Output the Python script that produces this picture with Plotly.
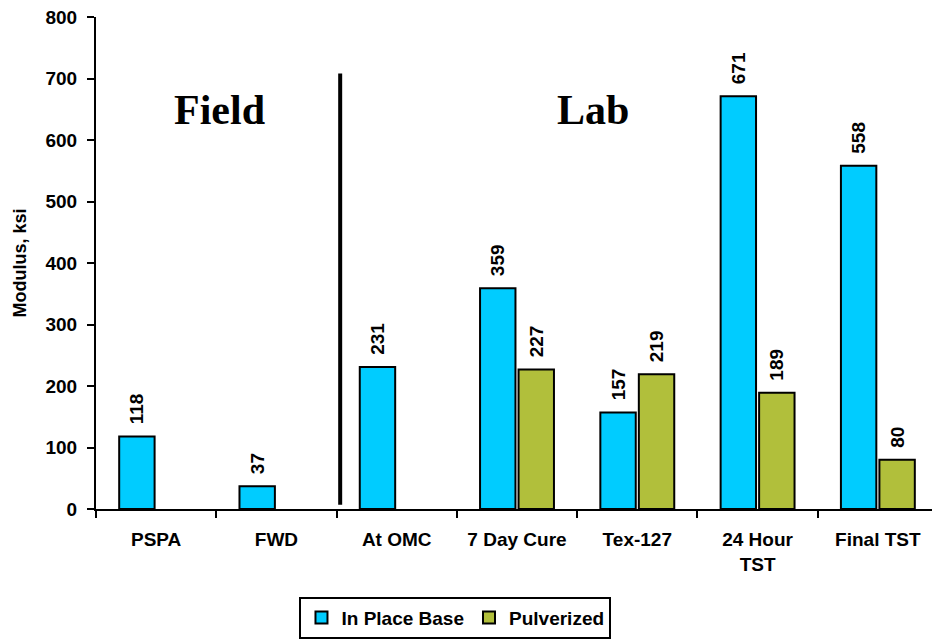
import plotly.graph_objects as go

categories = ["PSPA", "FWD", "At OMC", "7 Day Cure", "Tex-127", "24 Hour<br>TST", "Final TST"]
in_place_base = [118, 37, 231, 359, 157, 671, 558]
pulverized = [None, None, None, 227, 219, 189, 80]

blue = "#00CCFF"
green = "#B1BF3B"
ARIAL = "Arial, Liberation Sans, sans-serif"
PAD = "\u00a0\u2009"  # small gap between bar top and its value label


def bold(size):
    return dict(family=ARIAL, size=size, color="black", weight="bold")


fig = go.Figure()
for name, vals, col in [("In Place Base", in_place_base, blue), ("Pulverized", pulverized, green)]:
    fig.add_trace(go.Bar(
        x=categories, y=vals, name=name,
        marker=dict(color=col, line=dict(color="black", width=2)),
        text=[PAD + str(v) if v is not None else "" for v in vals],
        textposition="outside", textangle=-90, constraintext="none",
        textfont=bold(19),
        cliponaxis=False,
    ))

# divider between field and lab measurements
fig.add_shape(type="line", xref="x", yref="y", x0=1.53, x1=1.53, y0=7, y1=708,
              line=dict(color="black", width=4))

for txt, xpos in [("Field", 0.53), ("Lab", 3.63)]:
    fig.add_annotation(x=xpos, y=648, xref="x", yref="y", text=txt, showarrow=False,
                       font=dict(family="Times New Roman, Liberation Serif, serif", size=42,
                                 color="black", weight="bold"))

fig.update_layout(
    width=932, height=639,
    margin=dict(l=96, r=0, t=17, b=130, autoexpand=False),
    plot_bgcolor="white", paper_bgcolor="white",
    barmode="group", bargap=0.36, bargroupgap=0.08,
    font=bold(18),
    showlegend=True,
    legend=dict(orientation="h", x=0.43, xanchor="center", y=-0.178, yanchor="top",
                bordercolor="black", borderwidth=2, font=bold(19),
                itemwidth=30, tracegroupgap=0),
)
fig.update_xaxes(
    range=[-0.5, 6.45], showline=True, linecolor="black", linewidth=2,
    ticks="outside", tickson="boundaries", ticklen=7, tickwidth=2, tickcolor="black",
    tickfont=bold(19), ticklabelstandoff=12,
)
fig.update_yaxes(
    range=[0, 800], dtick=100, showline=True, linecolor="black", linewidth=2,
    ticks="outside", ticklen=7, tickwidth=2, tickcolor="black", showgrid=False, zeroline=False,
    tickfont=bold(19), ticklabelstandoff=6,
    title=dict(text="Modulus, ksi", standoff=14, font=bold(18)),
)

fig.write_html("out.html")
